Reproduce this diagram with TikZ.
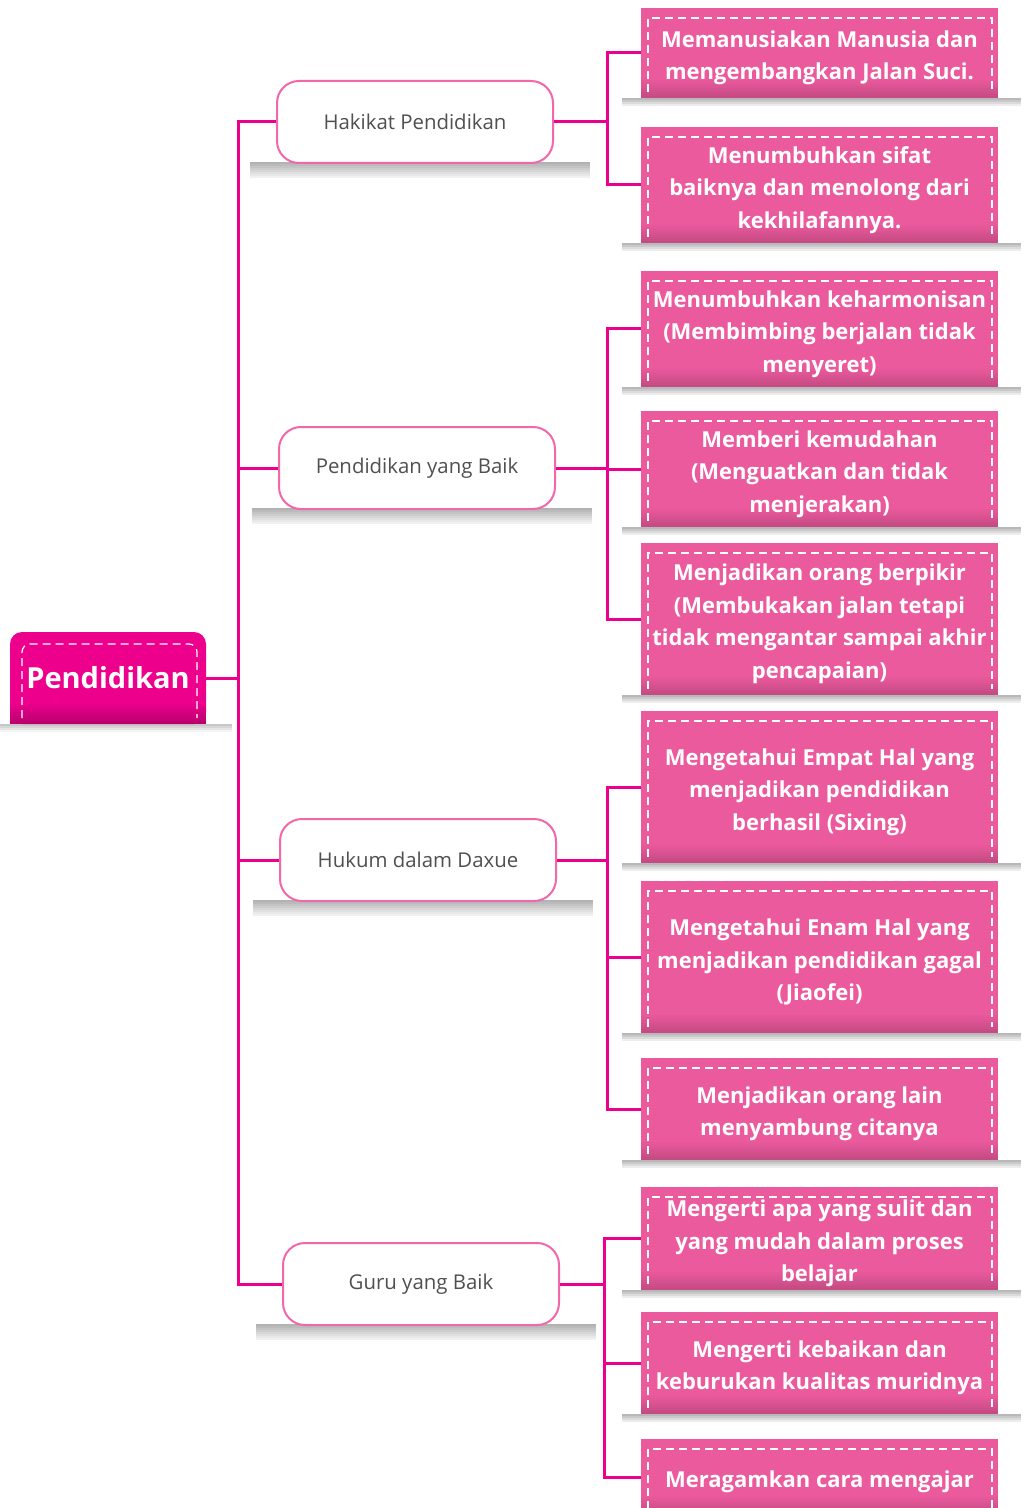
\documentclass[tikz,border=0pt]{standalone}
\usepackage{fontspec}
\setmainfont{Open Sans}

\definecolor{rootpink}{RGB}{236,0,140}
\definecolor{leafpink}{RGB}{236,90,158}
\definecolor{midpink}{RGB}{242,102,170}
\definecolor{labelgrey}{RGB}{80,80,80}

\tikzset{
  link/.style={draw=rootpink, line width=1.5pt},
  dashline/.style={draw=white, line width=0.6pt, dash pattern=on 4pt off 2.5pt},
  midbox/.style={rectangle, rounded corners=11pt, draw=midpink, line width=1pt, fill=white,
    minimum width=138pt, minimum height=41pt, text=labelgrey, font=\fontsize{10.2}{12}\selectfont},
  leafbox/.style={rectangle, fill=leafpink, minimum width=178.5pt, inner sep=0pt},
  leaftext/.style={align=center, inner sep=0pt, text=white, font=\bfseries\fontsize{11}{16.25}\selectfont},
  roottext/.style={rectangle, minimum width=98pt, minimum height=46pt, inner sep=0pt,
    text=white, font=\bfseries\fontsize{14.5}{17}\selectfont}
}

\begin{document}
\begin{tikzpicture}[x=0.5pt, y=-0.5pt]
  \fill[white] (0,0) rectangle (1023,1508);
  \useasboundingbox (0,0) rectangle (1023,1508);
  % Root box
  \foreach \k [evaluate=\k as \op using 0.22-0.06*\k] in {0,...,3} \fill[black, opacity=\op] (0,724+2*\k) rectangle ++(232,2);
  \fill[rootpink, rounded corners=6pt] (10,632) rectangle (206,724);
  \fill[rootpink] (10,690) rectangle (206,724);
  \foreach \k [evaluate=\k as \op using 0.02*\k+0.02] in {0,...,9} \fill[black, opacity=\op] (10,704+2*\k) rectangle ++(196,2);
  \draw[dashline, rounded corners=4pt] (22,718) |- (197,644) -- (197,718);
  \node[roottext] (root) at (108,678) {Pendidikan};
  \coordinate (trunk) at (238,678);
  % Second level
  \foreach \n/\cx/\cy/\txt in {hakikat/415/122/{Hakikat Pendidikan}, baik/417/468/{Pendidikan yang Baik},
      hukum/418/860/{Hukum dalam Daxue}, guru/421/1284/{Guru yang Baik}} {
    \foreach \k [evaluate=\k as \op using 0.3-0.035*\k] in {0,...,7} \fill[black, opacity=\op] (\cx-165,\cy+40+2*\k) rectangle ++(340,2);
    \node[midbox] (\n) at (\cx,\cy) {\txt};
  }
  % Leaves
  \foreach \n/\t/\h/\txt in {
      l1/8/90/{Memanusiakan Manusia dan\\mengembangkan Jalan Suci.},
      l2/127/116/{Menumbuhkan sifat\\baiknya dan menolong dari\\kekhilafannya.},
      l3/271/116/{Menumbuhkan keharmonisan\\(Membimbing berjalan tidak\\menyeret)},
      l4/411/116/{Memberi kemudahan\\(Menguatkan dan tidak\\menjerakan)},
      l5/543/152/{Menjadikan orang berpikir\\(Membukakan jalan tetapi\\tidak mengantar sampai akhir\\pencapaian)},
      l6/711/152/{Mengetahui Empat Hal yang\\menjadikan pendidikan\\berhasil (Sixing)},
      l7/881/152/{Mengetahui Enam Hal yang\\menjadikan pendidikan gagal\\(Jiaofei)},
      l8/1058/102/{Menjadikan orang lain\\menyambung citanya},
      l9/1187/103/{Mengerti apa yang sulit dan\\yang mudah dalam proses\\belajar},
      l10/1312/102/{Mengerti kebaikan dan\\keburukan kualitas muridnya},
      l11/1439/76/{Meragamkan cara mengajar}} {
    \foreach \k [evaluate=\k as \op using 0.28-0.07*\k] in {0,...,3} \fill[black, opacity=\op] (622,\t+\h+2*\k) rectangle ++(399,2);
    \node[leafbox, minimum height={\h*0.5pt}] (\n) at (819.5,{\t+\h/2}) {};
    \foreach \k [evaluate=\k as \op using 0.018*\k+0.018] in {0,...,8} \fill[black, opacity=\op] (641,\t+\h-18+2*\k) rectangle ++(357,2);
    \draw[dashline] (648,\t+\h-6) |- (992,\t+10) -- (992,\t+\h-6);
    \node[leaftext] (\n-t) at ([yshift=-2.5pt]\n.center) {\txt};
  }
  % Connectors
  \draw[link] (root.east) -- (trunk);
  \foreach \m in {hakikat,baik,hukum,guru} \draw[link] (\m.west) -| (trunk);
  \coordinate (s1) at (607,0);
  \coordinate (s2) at (604,0);
  \foreach \m/\s/\ls in {hakikat/s1/{l1,l2}, baik/s1/{l3,l4,l5}, hukum/s1/{l6,l7,l8}, guru/s2/{l9,l10,l11}} {
    \draw[link] (\m.east) -- (\m.east -| \s);
    \foreach \l in \ls \draw[link] (\l.west) -| (\m.east -| \s);
  }
\end{tikzpicture}
\end{document}
